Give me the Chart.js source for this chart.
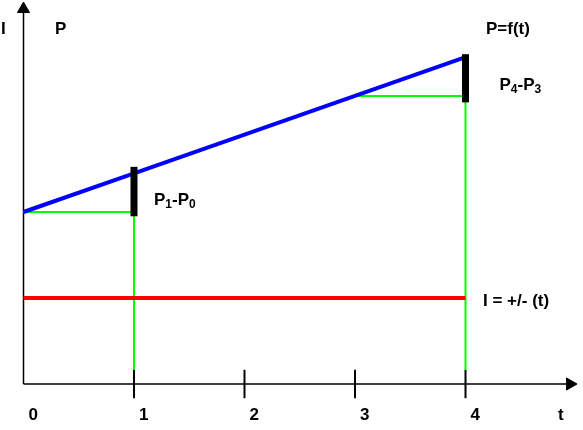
<!DOCTYPE html>
<html>
<head>
<meta charset="utf-8">
<script src="https://cdn.jsdelivr.net/npm/chart.js@4/dist/chart.umd.min.js"></script>
<style>
  body { margin: 0; background: #fff; }
  canvas { display: block; }
</style>
</head>
<body>
<canvas id="graf" width="583" height="430"></canvas>
<script>
// Datos
const tValues = [0, 1, 2, 3, 4];
const pValues = [4, 4.9, 5.8, 6.7, 7.6];
const iValue = 2;
const tickLabels = ['0', '1', '2', '3', '4'];
// barras negras P1-P0 (t=1) y P4-P3 (t=4)
const barTimes = [1, 4];
const barRanges = [[3.9, 5.05], [6.55, 7.67]];

const ctx = document.getElementById('graf').getContext('2d');
const tickH = 0.33;

function seg(x0, y0, x1, y1) {
  return [{ x: x0, y: y0 }, { x: x1, y: y1 }];
}

// guias verdes
const green1 = [
  { x: tValues[0], y: pValues[0] },
  { x: tValues[1], y: pValues[0] },
  { x: tValues[1], y: tickH }
];
const green2 = [
  { x: tValues[3], y: pValues[3] },
  { x: tValues[4], y: pValues[3] },
  { x: tValues[4], y: tickH }
];

const datasets = [];

// barras
barTimes.forEach((t, i) => {
  datasets.push({
    data: seg(t, barRanges[i][0], t, barRanges[i][1]),
    borderColor: '#000', borderWidth: 7, borderCapStyle: 'butt',
    pointRadius: 0, order: 0
  });
});

// P = f(t)
datasets.push({
  data: tValues.map((t, i) => ({ x: t, y: pValues[i] })),
  borderColor: '#0000ff', borderWidth: 4, pointRadius: 0, order: 1
});

// I
datasets.push({
  data: seg(tValues[0], iValue, tValues[4], iValue),
  borderColor: '#ff0000', borderWidth: 4, pointRadius: 0, order: 2
});

datasets.push({ data: green1, borderColor: '#00ff00', borderWidth: 2, pointRadius: 0, order: 3 });
datasets.push({ data: green2, borderColor: '#00ff00', borderWidth: 2, pointRadius: 0, order: 3 });

// ejes con flechas
datasets.push({
  data: seg(0, 0, 0, 8.72),
  borderColor: '#000', borderWidth: 1.5, order: 4,
  pointStyle: 'triangle', pointRadius: [0, 7], pointBackgroundColor: '#000',
  pointBorderColor: '#000', pointBorderWidth: 1, pointRotation: 0
});
datasets.push({
  data: seg(0, 0, 4.946, 0),
  borderColor: '#000', borderWidth: 1.5, order: 4,
  pointStyle: 'triangle', pointRadius: [0, 7], pointBackgroundColor: '#000',
  pointBorderColor: '#000', pointBorderWidth: 1, pointRotation: 90
});
// marcas del eje t
tValues.slice(1).forEach(t => {
  datasets.push({
    data: seg(t, -tickH, t, tickH),
    borderColor: '#000', borderWidth: 2, borderCapStyle: 'butt', pointRadius: 0, order: 4
  });
});

const FONT = 'bold 17px "Liberation Sans", Arial, sans-serif';
const SUB = 'bold 12px "Liberation Sans", Arial, sans-serif';

function drawParts(c, parts, x, y) {
  parts.forEach(p => {
    c.font = p.sub ? SUB : FONT;
    c.fillText(p.t, x, y + (p.sub ? 3 : 0));
    x += c.measureText(p.t).width;
  });
}

const textos = {
  id: 'textos',
  afterDraw(chart) {
    const c = chart.ctx;
    const xs = chart.scales.x;
    const ys = chart.scales.y;
    c.save();
    c.fillStyle = '#000';
    c.textBaseline = 'alphabetic';
    c.textAlign = 'left';
    c.font = FONT;
    // etiquetas del eje t
    const yLab = ys.getPixelForValue(0) + 36;
    tValues.forEach((t, i) => {
      c.fillText(tickLabels[i], xs.getPixelForValue(t) + 5, yLab);
    });
    c.fillText('t', xs.getPixelForValue(4.9) - 7, yLab);
    // titulos de ejes
    c.fillText('I', 1, 34);
    c.fillText('P', 55, 34);
    c.fillText('P=f(t)', 486, 34);
    c.fillText('I = +/- (t)', 483, ys.getPixelForValue(iValue) + 8);
    drawParts(c, [{ t: 'P' }, { t: '1', sub: true }, { t: '-P' }, { t: '0', sub: true }],
      xs.getPixelForValue(1) + 20, 205);
    drawParts(c, [{ t: 'P' }, { t: '4', sub: true }, { t: '-P' }, { t: '3', sub: true }],
      xs.getPixelForValue(4) + 34, 90);
    c.restore();
  }
};

new Chart(ctx, {
  type: 'line',
  data: { datasets: datasets },
  options: {
    responsive: false,
    animation: false,
    events: [],
    layout: { padding: 0, autoPadding: false },
    elements: { line: { tension: 0, fill: false } },
    plugins: { legend: { display: false }, tooltip: { enabled: false } },
    scales: {
      x: { type: 'linear', min: -23.5 / 110.5, max: (583 - 23.5) / 110.5, display: false },
      y: { type: 'linear', min: -46 / 43, max: 384 / 43, display: false }
    }
  },
  plugins: [textos]
});
</script>
</body>
</html>
